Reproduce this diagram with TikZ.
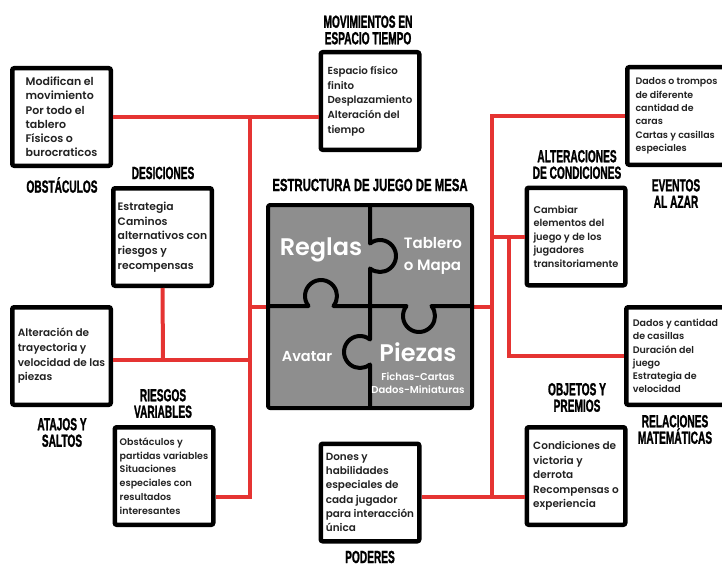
\documentclass[tikz,border=0pt]{standalone}
\usepackage{fontspec}
\usepackage{tikz}
\usetikzlibrary{positioning}
\newfontfamily\bodyfont{Poppins SemiBold}
\newfontfamily\headfont[FakeStretch=0.58,FakeBold=1.2]{Liberation Sans Bold}
\newfontfamily\titlefont[FakeStretch=0.65,FakeBold=1.2]{Liberation Sans Bold}
\definecolor{linkred}{RGB}{229,52,50}
\definecolor{piecegray}{RGB}{142,142,142}
\definecolor{inkgray}{RGB}{34,34,34}

\begin{document}
\begin{tikzpicture}[x=1pt,y=-1pt,
	card/.style 2 args={draw=black,line width=4.5pt,rounded corners=2pt,fill=white,
		minimum width=98.5pt,minimum height=97.5pt,inner sep=0pt,align=left,
		text=inkgray,font={\bodyfont\fontsize{#1}{#2}\selectfont}},
	heading/.style={align=center,inner sep=0pt,font={\headfont\fontsize{17.5}{16.5}\selectfont}},
	link/.style={linkred,line width=4pt},
	edge/.style={black,line width=4pt,line join=round},
	piece/.style={text=white,inner sep=0pt}]
	\clip (0,0) rectangle (722,567);
	% cards
	\node[card={11}{14.2}] (obst) at (61.5,117) {Modifican el\\movimiento\\Por todo el\\tablero\\Físicos o\\burocraticos};
	\node[card={10.2}{14.7}] (mov) at (370,101) {Espacio físico\\finito\\Desplazamiento\\Alteración del\\tiempo};
	\node[card={9.4}{13.3}] (evt) at (676.5,116) {Dados o trompos\\de diferente\\cantidad de\\caras\\Cartas y casillas\\especiales};
	\node[card={10.8}{14.8}] (desic) at (162.5,237) {Estrategia\\Caminos\\alternativos con\\riesgos y\\recompensas};
	\node[card={9.8}{13.6}] (alter) at (576,236.5) {Cambiar\\elementos del\\juego y de los\\jugadores\\transitoriamente};
	\node[card={10.5}{14.7}] (atajos) at (61.5,356) {Alteración de\\trayectoria y\\velocidad de las\\piezas};
	\node[card={9.5}{13.3}] (relac) at (675.5,356) {Dados y cantidad\\de casillas\\Duración del\\juego\\Estrategia de\\velocidad};
	\node[card={9.5}{13.8}] (riesgos) at (164,476) {Obstáculos y\\partidas variables\\Situaciones\\especiales con\\resultados\\interesantes};
	\node[card={10.4}{14.3}] (poderes) at (370,492.5) {Dones y\\habilidades\\especiales de\\cada jugador\\para interacción\\única};
	\node[card={10.5}{14.4}] (objetos) at (576,476) {Condiciones de\\victoria y\\derrota\\Recompensas o\\experiencia};
	% headings
	\node[heading] (hmov) at (368,30) {MOVIMIENTOS EN\\ESPACIO TIEMPO};
	\node[heading] (hobst) at (62,185) {OBSTÁCULOS};
	\node[heading] (hdesic) at (163,173) {DESICIONES};
	\node[heading] (halter) at (577,164.5) {ALTERACIONES\\DE CONDICIONES};
	\node[heading] (hevt) at (676,193.5) {EVENTOS\\AL AZAR};
	\node[heading] (hatajos) at (62,432.5) {ATAJOS Y\\SALTOS};
	\node[heading] (hriesgos) at (163,403.5) {RIESGOS\\VARIABLES};
	\node[heading] (hobjetos) at (577,397.5) {OBJETOS Y\\PREMIOS};
	\node[heading] (hrelac) at (675,429.5) {RELACIONES\\MATEMÁTICAS};
	\node[heading] (hpoderes) at (370,557) {PODERES};
	\node[heading,font={\titlefont\fontsize{17.5}{16.5}\selectfont}] (title) at (370,185) {ESTRUCTURA DE JUEGO DE MESA};
	% board and spines
	\node[minimum width=204pt,minimum height=203pt,inner sep=0pt] (board) at (370,306.5) {};
	\coordinate (spL) at (250,117);
	\coordinate (spLb) at (250,497);
	\coordinate (jL) at (163,360);
	\coordinate (spR) at (492,116);
	\coordinate (spRb) at (492,497);
	\coordinate (spR2) at (509,236.5);
	% red connectors
	\draw[link] (obst.east) -- (mov.west |- obst.east);
	\draw[link] (spL) -- (spLb) -- (riesgos.east |- spLb);
	\draw[link] (board.west) -- (board.west -| spL);
	\draw[link] (desic.south) -- (jL);
	\draw[link] (atajos.east |- jL) -- (jL -| spL);
	\draw[link] (evt.west) -- (spR) -- (spRb) -- (objetos.west |- spRb);
	\draw[link] (poderes.east |- spRb) -- (spRb);
	\draw[link] (board.east) -- (board.east -| spR);
	\draw[link] (alter.west) -- (alter.west -| spR);
	\draw[link] (spR2) -- (spR2 |- relac.west) -- (relac.west);
	% puzzle
	\draw[edge,fill=piecegray,rounded corners=2pt] (268,205) rectangle (472,408);
	\draw[edge] (268,306) -- (308.5,306) arc[start angle=218.7,end angle=-38.7,radius=16pt]
		-- (406.5,306) arc[start angle=141.3,end angle=398.7,radius=16pt] -- (472,306);
	\draw[edge] (370,205) -- (370,243.5) arc[start angle=128.7,end angle=-128.7,radius=16pt]
		-- (370,339.5) arc[start angle=51.3,end angle=308.7,radius=16pt] -- (370,408);
	\node[piece,font={\bodyfont\fontsize{24}{26}\selectfont}] (reglas) at (321,250) {Reglas};
	\node[piece,align=left,font={\bodyfont\fontsize{15}{22}\selectfont}] (tablero) at (433,256) {Tablero\\o Mapa};
	\node[piece,font={\bodyfont\fontsize{14.5}{16}\selectfont}] (avatar) at (307,356) {Avatar};
	\node[piece,font={\bodyfont\fontsize{24}{26}\selectfont}] (piezas) at (418,352) {Piezas};
	\node[piece,align=center,font={\bodyfont\fontsize{10}{12.5}\selectfont}] (fichas) at (418,383) {Fichas-Cartas\\Dados-Miniaturas};
\end{tikzpicture}
\end{document}
